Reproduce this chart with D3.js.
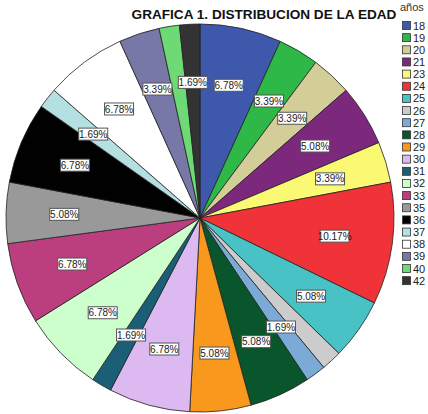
<!DOCTYPE html>
<meta charset="utf-8" />
<style>
  body { margin: 0; background: #fff; }
  svg text { font-family: "Liberation Sans", Arial, sans-serif; }
</style>
<body>
<script src="https://d3js.org/d3.v7.min.js"></script>
<script>
  // ages and their percentages (n = 59)
  var ages = ['18','19','20','21','23','24','25','26','27','28','29','30','31','32','33','35','36','37','38','39','40','42'];
  var pcts = [6.78,3.39,3.39,5.08,3.39,10.17,5.08,1.69,1.69,5.08,5.08,6.78,1.69,6.78,6.78,5.08,6.78,1.69,6.78,3.39,1.69,1.69];
  var colors = ['#3e58ac','#2eb848','#d3ce97','#7c287d','#fbf873','#ef3338','#48c2c5','#cccccc','#7aaad5','#0a562c',
    '#f8981d','#ddb9f1','#1a5f76','#ccffcc','#bb3f7f','#999999','#010101','#b5e0e2','#ffffff','#7878a8','#6dda76','#333333'];

  var width = 428, height = 414;
  var cx = 200, cy = 218, radius = 194;

  var svg = d3.select('body').append('svg')
    .attr('width', width)
    .attr('height', height);

  svg.append('text')
    .attr('x', 264)
    .attr('y', 19)
    .attr('text-anchor', 'middle')
    .style('font-size', '13.6px')
    .style('font-weight', 'bold')
    .attr('fill', '#111')
    .text('GRAFICA 1. DISTRIBUCION DE LA EDAD');

  var data = ages.map(function (a, i) { return { age: a, pct: pcts[i], color: colors[i] }; });

  var pie = d3.pie().sort(null).value(function (d) { return d.pct; });
  var arcs = pie(data);

  var arc = d3.arc().innerRadius(0).outerRadius(radius);
  var labelArc = d3.arc().innerRadius(radius * 0.7).outerRadius(radius * 0.7);

  var g = svg.append('g').attr('transform', 'translate(' + cx + ',' + cy + ')');

  g.selectAll('path.slice')
    .data(arcs)
    .enter()
    .append('path')
    .attr('class', 'slice')
    .attr('d', arc)
    .attr('fill', function (d) { return d.data.color; })
    .attr('stroke', '#222')
    .attr('stroke-width', 0.8);

  // labels, later ones win when boxes overlap
  var bw = 29, bh = 12;
  var placed = [];
  for (var i = arcs.length - 1; i >= 0; i--) {
    var c = labelArc.centroid(arcs[i]);
    var clash = placed.some(function (p) {
      return Math.abs(p.x - c[0]) < bw && Math.abs(p.y - c[1]) < bh;
    });
    if (!clash) placed.push({ x: c[0], y: c[1], d: arcs[i] });
  }

  var lab = g.selectAll('g.lab')
    .data(placed)
    .enter()
    .append('g')
    .attr('class', 'lab')
    .attr('transform', function (p) { return 'translate(' + p.x + ',' + p.y + ')'; });

  lab.append('rect')
    .attr('x', -bw / 2)
    .attr('y', -bh / 2)
    .attr('width', bw)
    .attr('height', bh)
    .attr('fill', '#fff')
    .attr('stroke', '#555')
    .attr('stroke-width', 1);

  lab.append('text')
    .attr('text-anchor', 'middle')
    .attr('dy', '0.36em')
    .style('font-size', '10px')
    .attr('fill', '#222')
    .text(function (p) { return p.d.data.pct.toFixed(2) + '%'; });

  // legend
  var legend = svg.append('g').attr('transform', 'translate(402,0)');
  legend.append('text')
    .attr('x', -2)
    .attr('y', 11)
    .style('font-size', '11px')
    .attr('fill', '#333')
    .text('años');

  var ly = d3.scaleBand().domain(ages).range([19.5, 19.5 + 12.15 * ages.length]);

  var item = legend.selectAll('g.item')
    .data(data)
    .enter()
    .append('g')
    .attr('class', 'item')
    .attr('transform', function (d) { return 'translate(0,' + ly(d.age) + ')'; });

  item.append('rect')
    .attr('x', 0.5)
    .attr('y', 2)
    .attr('width', 8)
    .attr('height', 8)
    .attr('fill', function (d) { return d.color; })
    .attr('stroke', '#333')
    .attr('stroke-width', 0.8);

  item.append('text')
    .attr('x', 11)
    .attr('y', 10)
    .style('font-size', '11px')
    .attr('fill', '#222')
    .text(function (d) { return d.age; });
</script>
</body>
